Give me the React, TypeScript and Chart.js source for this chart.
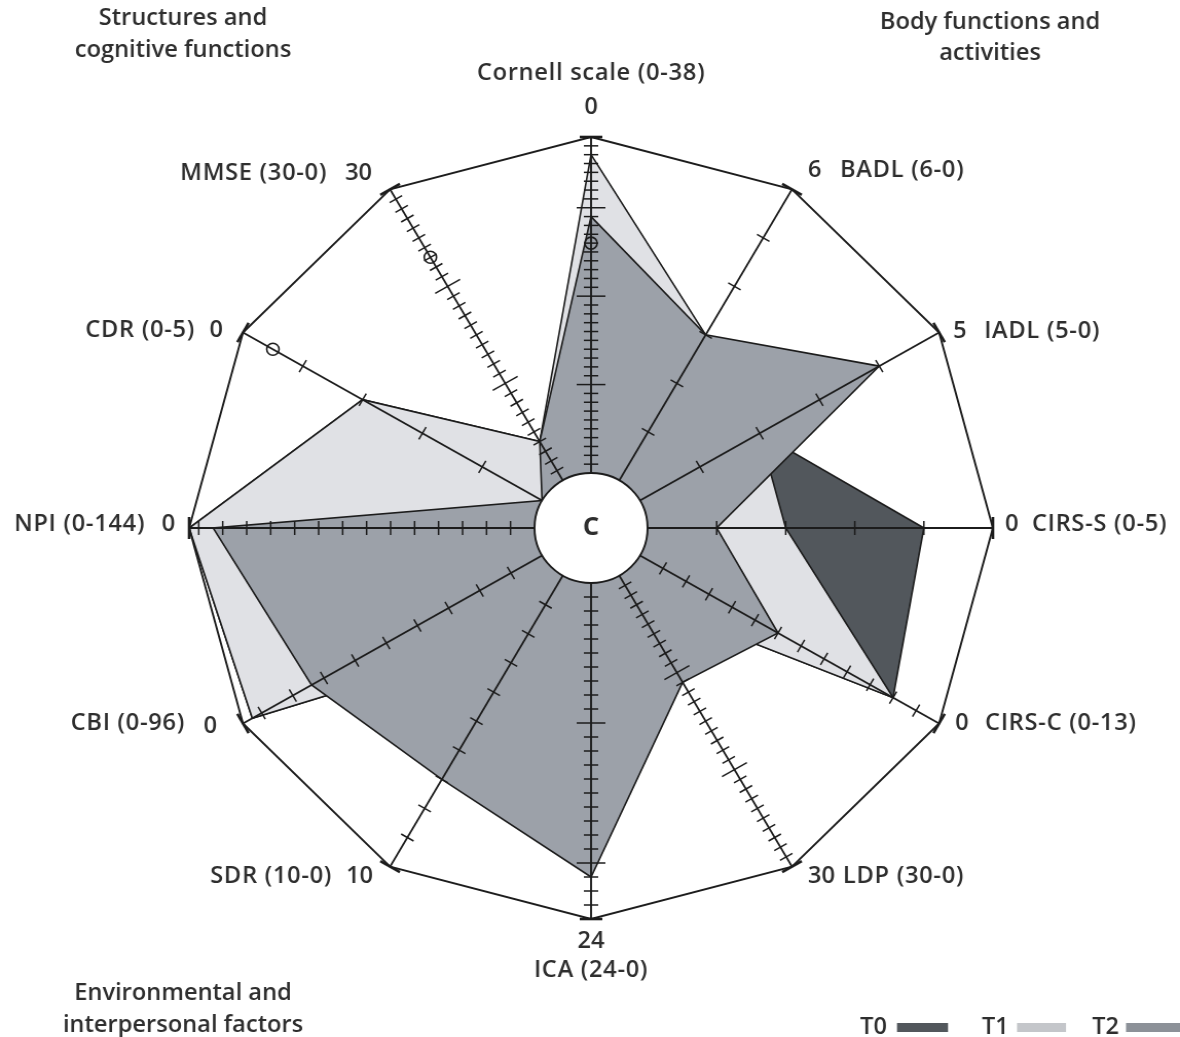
import { useEffect, useRef } from "react";
import { Chart, registerables } from "chart.js";

Chart.register(...registerables);

// ---------- data ----------
// axes, clockwise from the top
const axisNames = [
  "Cornell scale (0-38)",
  "BADL (6-0)",
  "IADL (5-0)",
  "CIRS-S (0-5)",
  "CIRS-C (0-13)",
  "LDP (30-0)",
  "ICA (24-0)",
  "SDR (10-0)",
  "CBI (0-96)",
  "NPI (0-144)",
  "CDR (0-5)",
  "MMSE (30-0)",
];
// score printed at the rim of each axis (best value) and score at the hub (worst value)
const axisRimValue = [0, 6, 5, 0, 0, 30, 24, 10, 0, 0, 0, 30];
const axisHubValue = [38, 0, 0, 5, 13, 0, 0, 0, 96, 144, 5, 0];
const axisTickStep = [1, 1, 1, 1, 1, 1, 1, 1, 10, 10, 1, 1];
const axisMajorEvery = [10, 0, 0, 0, 0, 10, 10, 0, 0, 0, 0, 10];
const rimLabels = ["0", "6", "5", "0", "0", "30", "24", "10", "0", "0", "0", "30"];

const seriesNames = ["T0", "T1", "T2"];
const t0Scores = [9, 3, 2, 1, 2, 2, 16, 2, 3, 0, 2, 4];
const t1Scores = [2, 3, 2, 3, 2, 2, 16, 2, 3, 0, 2, 4];
const t2Scores = [9, 3, 4, 4, 7, 11, 21, 7, 22, 10, 5, 4];
const markerScores = [12, null, null, null, null, null, null, null, null, null, 0.5, 23];

const groupTitles = [
  ["Structures and", "cognitive functions"],
  ["Body functions and", "activities"],
  ["Environmental and", "interpersonal factors"],
];
const centreLabel = "C";

// ---------- styles ----------
const CANVAS_W = 1148;
const CANVAS_H = 1037;
const VIEW_W = 1180;
const SX = VIEW_W / CANVAS_W;
const RADIUS = 391;
const HUB_RADIUS = 55;
const R_MIN = -HUB_RADIUS / (RADIUS - HUB_RADIUS);
const INK = "#1c1c1c";
const TEXT = "#2e2e2e";
const COLORS = ["rgb(82,87,92)", "rgb(224,225,229)", "rgb(156,161,169)"];
const SWATCH = ["rgb(82,87,92)", "rgb(196,198,202)", "rgb(140,145,152)"];
const FONT = '600 23px "Open Sans", sans-serif';

// label offsets in view pixels from each rim vertex: [dx, dy, align]
const valueLabelPos: [number, number, CanvasTextAlign][] = [
  [0, -30, "center"], [16, -19, "left"], [14, -1, "left"], [12, -4, "left"],
  [16, 0, "left"], [16, 10, "left"], [0, 22, "center"], [-17, 10, "right"],
  [-26, 3, "right"], [-14, -4, "right"], [-20, -2, "right"], [-18, -16, "right"],
];
const nameLabelPos: [number, number, CanvasTextAlign][] = [
  [0, -64, "center"], [48, -19, "left"], [45, -1, "left"], [39, -4, "left"],
  [46, 0, "left"], [51, 10, "left"], [0, 51, "center"], [-58, 10, "right"],
  [-58, 0, "right"], [-44, -4, "right"], [-48, -2, "right"], [-63, -16, "right"],
];
const titlePos = [
  [183, 18, 50],
  [990, 22, 53],
  [183, 993, 1025],
];

const toFrac = (scores: (number | null)[]) =>
  scores.map((v, i) =>
    v === null ? null : (v - axisHubValue[i]) / (axisRimValue[i] - axisHubValue[i])
  );

const decorPlugin = {
  id: "decor",
  afterDatasetsDraw(chart: any) {
    const ctx: any = chart.ctx;
    const s = chart.scales.r;
    const n = axisNames.length;
    ctx.save();
    ctx.strokeStyle = INK;
    ctx.lineCap = "butt";

    // outer frame
    ctx.lineWidth = 1.9;
    ctx.beginPath();
    for (let i = 0; i < n; i++) {
      const p = s.getPointPositionForValue(i, 1);
      if (i === 0) ctx.moveTo(p.x, p.y);
      else ctx.lineTo(p.x, p.y);
    }
    ctx.closePath();
    ctx.stroke();

    // axes with ticks
    for (let i = 0; i < n; i++) {
      const a = s.getPointPositionForValue(i, 0);
      const b = s.getPointPositionForValue(i, 1);
      const dx = b.x - a.x;
      const dy = b.y - a.y;
      const len = Math.hypot(dx, dy);
      const px = -dy / len;
      const py = dx / len;
      ctx.lineWidth = 1.9;
      ctx.beginPath();
      ctx.moveTo(a.x, a.y);
      ctx.lineTo(b.x, b.y);
      ctx.stroke();
      const span = Math.abs(axisRimValue[i] - axisHubValue[i]);
      const step = axisTickStep[i];
      ctx.lineWidth = 1.5;
      for (let k = step; k < span - 1e-9; k += step) {
        const q = s.getPointPositionForValue(i, k / span);
        const major = axisMajorEvery[i] > 0 && k % axisMajorEvery[i] === 0;
        const h = major ? 14 : 7;
        ctx.beginPath();
        ctx.moveTo(q.x - px * h, q.y - py * h);
        ctx.lineTo(q.x + px * h, q.y + py * h);
        ctx.stroke();
      }
      ctx.lineWidth = 2.6;
      ctx.beginPath();
      ctx.moveTo(b.x - px * 11, b.y - py * 11);
      ctx.lineTo(b.x + px * 11, b.y + py * 11);
      ctx.stroke();
    }

    // hub circle
    const cx = s.xCenter;
    const cy = s.yCenter;
    const r0 = s.getDistanceFromCenterForValue(0);
    ctx.beginPath();
    ctx.arc(cx, cy, r0, 0, Math.PI * 2);
    ctx.fillStyle = "#ffffff";
    ctx.fill();
    ctx.lineWidth = 1.9;
    ctx.stroke();

    ctx.fillStyle = TEXT;
    ctx.textBaseline = "middle";
    ctx.font = 'bold 25px "Open Sans", sans-serif';
    ctx.textAlign = "center";
    ctx.fillText(centreLabel, cx, cy);

    // axis labels
    ctx.font = FONT;
    for (let i = 0; i < n; i++) {
      const b = s.getPointPositionForValue(i, 1);
      const [vx, vy, va] = valueLabelPos[i];
      ctx.letterSpacing = "0px";
      ctx.textAlign = va;
      ctx.fillText(rimLabels[i], b.x + vx / SX, b.y + vy);
      const [nx, ny, na] = nameLabelPos[i];
      ctx.letterSpacing = "0.7px";
      ctx.textAlign = na;
      ctx.fillText(axisNames[i], b.x + nx / SX, b.y + ny);
    }
    ctx.letterSpacing = "0px";

    // group titles
    ctx.textAlign = "center";
    groupTitles.forEach((lines, gi) => {
      const [x, y1, y2] = titlePos[gi];
      ctx.fillText(lines[0], x / SX, y1);
      ctx.fillText(lines[1], x / SX, y2);
    });

    // legend
    const legendText = [860, 982, 1092];
    const legendBar = [
      [897, 948],
      [1017, 1066],
      [1126, 1180],
    ];
    ctx.textAlign = "left";
    seriesNames.forEach((nm, k) => {
      ctx.fillStyle = TEXT;
      ctx.fillText(nm, legendText[k] / SX, 1027);
      ctx.fillStyle = SWATCH[k];
      const [x0, x1] = legendBar[k];
      ctx.fillRect(x0 / SX, 1023, (x1 - x0) / SX, 9);
    });

    ctx.restore();
  },
};

export default function App() {
  const ref = useRef<HTMLCanvasElement | null>(null);

  useEffect(() => {
    if (!ref.current) return;
    const polys = [t0Scores, t1Scores, t2Scores];
    const datasets: any[] = polys.map((sc, k) => ({
      label: seriesNames[k],
      data: toFrac(sc),
      backgroundColor: COLORS[k],
      borderColor: INK,
      borderWidth: 1.6,
      fill: "start",
      tension: 0,
      pointRadius: 0,
      pointHoverRadius: 0,
      order: 3 - k,
    }));
    datasets.push({
      label: "markers",
      data: toFrac(markerScores),
      showLine: false,
      fill: false,
      borderWidth: 0,
      pointRadius: 6,
      pointHoverRadius: 6,
      pointBorderWidth: 1.6,
      pointBorderColor: INK,
      pointBackgroundColor: "rgba(0,0,0,0)",
      order: 0,
    });

    const chart = new Chart(ref.current, {
      type: "radar",
      data: { labels: axisNames, datasets },
      options: {
        responsive: false,
        maintainAspectRatio: false,
        devicePixelRatio: 1,
        animation: false,
        events: [],
        layout: { padding: { left: 184, right: 182, top: 137, bottom: 118 } },
        plugins: { legend: { display: false }, tooltip: { enabled: false } },
        scales: {
          r: {
            min: R_MIN,
            max: 1,
            startAngle: 0,
            ticks: { display: false },
            grid: { display: false },
            angleLines: { display: false },
            pointLabels: { display: false },
          },
        },
      } as any,
      plugins: [decorPlugin],
    });
    return () => chart.destroy();
  }, []);

  return (
    <div
      style={{
        position: "fixed",
        left: 0,
        top: 0,
        width: VIEW_W,
        height: CANVAS_H,
        background: "#ffffff",
      }}
    >
      <canvas
        ref={ref}
        width={CANVAS_W}
        height={CANVAS_H}
        style={{ width: VIEW_W + "px", height: CANVAS_H + "px", display: "block" }}
      />
    </div>
  );
}
